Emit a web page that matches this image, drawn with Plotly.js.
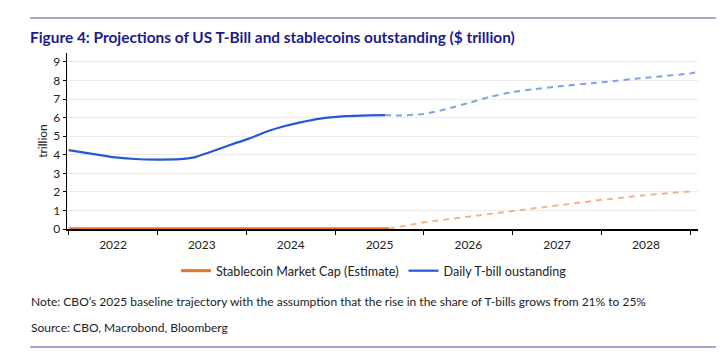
<!DOCTYPE html>
<html>
<head>
<meta charset="utf-8">
<script src="https://cdn.plot.ly/plotly-3.0.1.min.js"></script>
<style>
html,body{margin:0;padding:0;background:#fff;}
#chart{width:725px;height:357px;}
</style>
</head>
<body>
<div id="chart"></div>
<script>
// Daily T-bill outstanding, historical (solid)
const tbillHistDates = ["2022-01-01","2022-04-01","2022-07-01","2022-10-01","2023-01-01","2023-04-01","2023-06-01","2023-08-01","2023-11-01","2024-01-15","2024-04-01","2024-06-01","2024-08-15","2024-11-01","2025-02-01","2025-04-15","2025-07-25"];
const tbillHistValues = [4.25, 4.06, 3.87, 3.77, 3.74, 3.76, 3.86, 4.12, 4.55, 4.88, 5.28, 5.52, 5.76, 5.95, 6.07, 6.11, 6.13];
// Daily T-bill outstanding, projection (dashed)
const tbillProjDates = ["2025-07-25","2025-10-01","2026-01-01","2026-04-01","2026-07-01","2026-10-01","2027-01-01","2027-04-01","2027-07-01","2028-01-01","2028-07-01","2029-01-01","2029-01-25"];
const tbillProjValues = [6.13, 6.12, 6.2, 6.45, 6.78, 7.12, 7.38, 7.53, 7.67, 7.9, 8.15, 8.38, 8.44];
// Stablecoin market cap, estimate (solid) and projection (dashed)
const stableHistDates = ["2022-01-01","2023-01-01","2024-01-01","2025-01-01","2025-08-10"];
const stableHistValues = [0.01, 0.01, 0.01, 0.01, 0.01];
const stableProjDates = ["2025-08-10","2026-01-01","2026-07-01","2027-01-01","2027-07-01","2028-01-01","2028-07-01","2029-01-01"];
const stableProjValues = [0.02, 0.36, 0.66, 0.97, 1.27, 1.57, 1.82, 2.03];
// Axis labels
const yTicks = [0,1,2,3,4,5,6,7,8,9];
const seriesNames = ["Stablecoin Market Cap (Estimate)", "Daily T-bill oustanding"];

const FONT = "Lato, 'Open Sans', sans-serif";
const NAVY = "#1c1c8a";
const RULE = "#4a4a9a";

const traces = [
  {x: stableHistDates, y: stableHistValues, type: "scatter", mode: "lines", name: seriesNames[0],
   line: {color: "#e8732b", width: 3}, showlegend: true},
  {x: stableProjDates, y: stableProjValues, type: "scatter", mode: "lines", name: seriesNames[0],
   line: {color: "#f4b48a", width: 2, dash: "6px,5px"}, showlegend: false},
  {x: tbillHistDates, y: tbillHistValues, type: "scatter", mode: "lines", name: seriesNames[1],
   line: {color: "#2557d6", width: 2.2, shape: "spline", smoothing: 0.6}, showlegend: true},
  {x: tbillProjDates, y: tbillProjValues, type: "scatter", mode: "lines", name: seriesNames[1],
   line: {color: "#7ea2e6", width: 2, dash: "6px,5px", shape: "spline", smoothing: 0.6}, showlegend: false}
];

const py = p => (229 - p) / 176;
const px = p => (p - 67) / 633;

const layout = {
  width: 725, height: 357,
  margin: {l: 67, r: 27, t: 53, b: 128},
  paper_bgcolor: "#fff", plot_bgcolor: "#fff",
  font: {family: FONT, size: 12, color: "#222"},
  title: {text: "<b>Figure 4: Projections of US T-Bill and stablecoins outstanding ($ trillion)</b>",
          font: {family: FONT, size: 15.4, color: NAVY},
          x: 30/725, xanchor: "left", xref: "container", y: 1 - 38/357, yanchor: "middle", yref: "container"},
  xaxis: {type: "date", range: ["2021-12-25", "2029-02-01"], tick0: "2022-01-01", dtick: "M12",
          ticklabelmode: "period", tickformat: "%Y", ticks: "outside", ticklen: 4, tickcolor: "#000",
          showline: true, linecolor: "#000", linewidth: 1.5, showgrid: false, zeroline: false,
          tickfont: {size: 12, color: "#222"}, fixedrange: true},
  yaxis: {range: [0, 9.48], tickvals: yTicks, ticktext: yTicks.map(String), ticks: "outside", ticklen: 3,
          tickcolor: "#000", showline: true, linecolor: "#000", linewidth: 1.5, showgrid: true,
          gridcolor: "#ececec", gridwidth: 1, zeroline: false, tickfont: {size: 12, color: "#222"},
          title: {text: "trillion", font: {size: 12, color: "#222"}, standoff: 3}, fixedrange: true},
  legend: {orientation: "h", x: px(375), xanchor: "center", y: py(271), yanchor: "middle",
           font: {size: 12.6, color: "#222"}, itemwidth: 30, tracegroupgap: 0},
  showlegend: true,
  shapes: [
    {type: "line", xref: "paper", yref: "paper", x0: px(30), x1: px(718), y0: py(18), y1: py(18), line: {color: RULE, width: 1}},
    {type: "line", xref: "paper", yref: "paper", x0: px(30), x1: px(718), y0: py(347), y1: py(347), line: {color: RULE, width: 1}}
  ],
  annotations: [
    {xref: "paper", yref: "paper", x: px(29), y: py(301), xanchor: "left", yanchor: "middle", showarrow: false,
     text: "Note: CBO\u2019s 2025 baseline trajectory with the assumption that the rise in the share of T-bills grows from 21% to 25%",
     font: {size: 12, color: "#222"}},
    {xref: "paper", yref: "paper", x: px(29), y: py(327), xanchor: "left", yanchor: "middle", showarrow: false,
     text: "Source: CBO, Macrobond, Bloomberg", font: {size: 12, color: "#222"}}
  ]
};

Plotly.newPlot("chart", traces, layout, {displayModeBar: false, staticPlot: true});
</script>
</body>
</html>
